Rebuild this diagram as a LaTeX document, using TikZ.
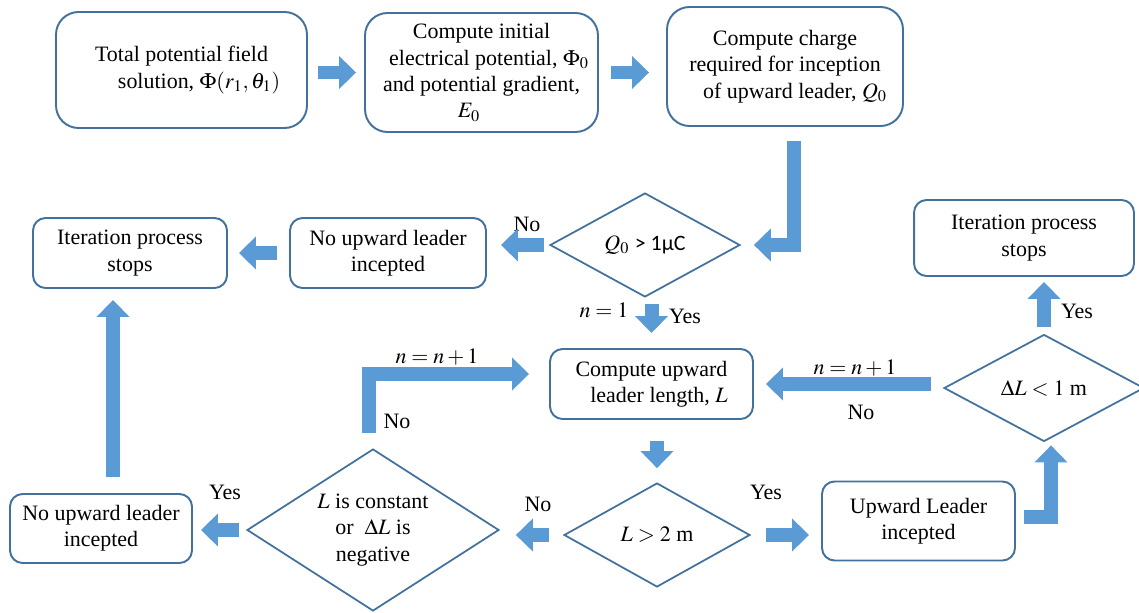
\documentclass[tikz,border=0pt]{standalone}
\usepackage{mathptmx}
\usepackage{fontspec}
\setmainfont{Liberation Serif}
\newfontfamily\calibri{Carlito}
\usetikzlibrary{shapes.geometric,arrows.meta,positioning}

\definecolor{boxblue}{HTML}{41719C}
\definecolor{arrowblue}{HTML}{5B9BD5}

\begin{document}
\begin{tikzpicture}[
    x=0.02cm, y=-0.02cm,
    font=\rmfamily\fontsize{12.5}{15}\selectfont,
    box/.style={draw=boxblue, line width=1.1pt, align=center, inner sep=2pt},
    bigbox/.style={box, rounded corners=0.45cm},
    smallbox/.style={box, rounded corners=0.25cm},
    decision/.style={diamond, draw=boxblue, line width=1pt, align=center, inner sep=0pt},
    blockarrow/.style={arrowblue, line width=0.28cm, -{Triangle[width=0.64cm, length=0.34cm]}},
    lbl/.style={inner sep=1pt}
]
\useasboundingbox (0,0) rectangle (1139,612);

% === Top row: field, potential, charge ===
\node[bigbox, minimum width=5.02cm, minimum height=2.32cm] (field) at (181.5,70) {Total potential field\\ \hspace*{0.7cm}solution, $\Phi(r_1,\theta_1)$};
\node[bigbox, minimum width=4.66cm, minimum height=2.38cm] (init) at (481.5,72.5) {Compute initial\\ \hspace*{0.3cm}electrical potential, $\Phi_0$\\ and potential gradient,\\ $E_0$\hspace*{0.5cm}};
\node[bigbox, minimum width=4.72cm, minimum height=2.38cm] (charge) at (785,66.5) {Compute charge\\ required for inception\\ \hspace*{0.4cm}of upward leader, $Q_0$};

% === Charge test ===
\node[decision, minimum width=3.8cm, minimum height=2.08cm, aspect=1.83] (qtest) at (645,245) {$Q_0$ {\calibri > 1μC}};
\node[smallbox, minimum width=3.92cm, minimum height=1.4cm] (noinc) at (388,253) {No upward leader\\ incepted};
\node[smallbox, minimum width=3.88cm, minimum height=1.4cm] (stopl) at (130,253) {Iteration process\\ stops};

% === Leader length loop ===
\node[smallbox, minimum width=4.06cm, minimum height=1.4cm] (length) at (651.5,384) {Compute upward\\ \hspace*{0.3cm}leader length,\ $L$};
\node[decision, minimum width=4.0cm, minimum height=2.14cm, aspect=1.87] (dtest) at (1044,388) {$\Delta L < 1$ m};
\node[smallbox, minimum width=4.4cm, minimum height=1.52cm] (stopr) at (1024,238) {Iteration process\\ stops};
\node[decision, minimum width=3.72cm, minimum height=2.08cm, aspect=1.79] (ltest) at (657,535) {$L > 2$ m};
\node[smallbox, minimum width=3.86cm, minimum height=1.58cm] (incep) at (918.5,521) {Upward Leader\\ incepted};
\node[decision, minimum width=5.04cm, minimum height=3.24cm, aspect=1.56] (ctest) at (373,530) {$L$ is constant\\ or\ \ $\Delta L$ is\\ negative};
\node[smallbox, minimum width=3.64cm, minimum height=1.38cm] (noinc2) at (101,528.5) {No upward leader\\ incepted};

% Labels
\node[lbl] (no1) at (527,224) {No};
\node[lbl] (n1) at (604,310) {$n=1$};
\node[lbl] (yes1) at (685,316) {Yes};
\node[lbl] (inc1) at (437,357) {$n=n+1$};
\node[lbl] (no2) at (397,421) {No};
\node[lbl] (inc2) at (855,368) {$n=n+1$};
\node[lbl] (no3) at (861,412) {No};
\node[lbl] (yes2) at (1077,311) {Yes};
\node[lbl] (yes3) at (766,492) {Yes};
\node[lbl] (no4) at (538,504) {No};
\node[lbl] (yes4) at (225,492) {Yes};

% Block arrows
\draw[blockarrow, shorten <=0.2cm, shorten >=0.16cm] (field.east |- init.west) -- (init.west);
\draw[blockarrow, shorten <=0.24cm, shorten >=0.34cm] (init.east) -- (init.east -| charge.west);
\draw[blockarrow, shorten <=0.28cm, shorten >=0.26cm] ([xshift=0.18cm]charge.south) |- (qtest.east);
\draw[blockarrow, shorten <=0.1cm, shorten >=0.28cm] (qtest.west) -- (qtest.west -| noinc.east);
\draw[blockarrow, shorten <=0.24cm, shorten >=0.22cm] (noinc.west) -- (noinc.west -| stopl.east);
\draw[blockarrow, shorten <=0.12cm, shorten >=0.3cm] (qtest.south -| length.north) -- (length.north);
\draw[blockarrow, shorten <=0.42cm, shorten >=0.28cm] (length.south -| ltest.north) -- (ltest.north);
\draw[blockarrow, shorten <=0.3cm, shorten >=0.24cm] (ltest.east) -- (ltest.east -| incep.west);
\draw[blockarrow, shorten <=0.16cm, shorten >=0.06cm] ([yshift=0.08cm]incep.east) -| ([xshift=0.14cm]dtest.south);
\draw[blockarrow, shorten <=0.14cm, shorten >=0.1cm] (dtest.north) -- (dtest.north |- stopr.south);
\draw[blockarrow, shorten <=0.24cm, shorten >=0.24cm] (dtest.west |- length.east) -- (length.east);
\draw[blockarrow, shorten <=0.28cm, shorten >=0.32cm] (ltest.west) -- (ltest.west -| ctest.east);
\draw[blockarrow, shorten <=0.14cm, shorten >=0.16cm] (ctest.west) -- (ctest.west -| noinc2.east);
\draw[blockarrow, shorten <=0.32cm, shorten >=0.22cm] ([xshift=0.24cm]noinc2.north) -- ([xshift=0.24cm]noinc2.north |- stopl.south);
\draw[blockarrow, shorten <=0.3cm, shorten >=0.4cm] ([xshift=-0.08cm]ctest.north) |- ([yshift=0.2cm]length.west);

\end{tikzpicture}
\end{document}
